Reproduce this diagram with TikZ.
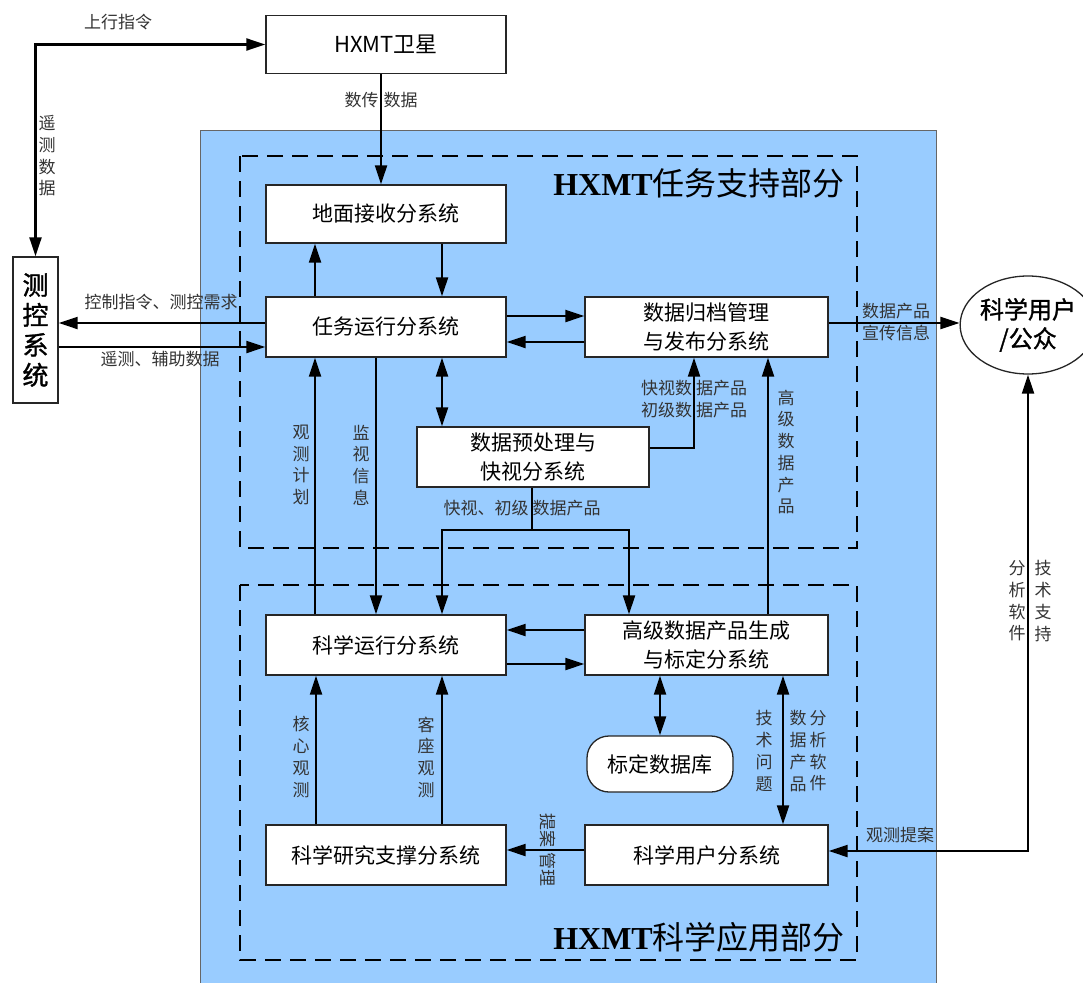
\documentclass[tikz,border=0pt]{standalone}
\usepackage{fontspec}
\setmainfont{Noto Sans CJK SC}
\newfontfamily\tms{Liberation Serif}
\newfontfamily\cjkfb[FakeBold=1.2]{Noto Sans CJK SC}
\usetikzlibrary{arrows.meta,shapes.geometric}
\definecolor{bgblue}{RGB}{153,204,255}
\tikzset{
  box/.style={draw=black!85, fill=white, line width=1.3pt, inner sep=0pt, align=center,
              font=\fontsize{21}{29}\selectfont},
  conn/.style={line width=2.1pt},
  lbl/.style={inner sep=0pt, align=center, text=black!80, font=\fontsize{17}{22}\selectfont},
  vlbl/.style={inner sep=0pt, align=center, text=black!80, font=\fontsize{17}{21.7}\selectfont},
  dashbox/.style={line width=2.6pt, dash pattern=on 16pt off 9pt},
}
\begin{document}
\begin{tikzpicture}[x=1pt,y=-1pt,>={Triangle[length=19pt,width=12pt]}]
\useasboundingbox (0,0) rectangle (1083,982);
\fill[white] (0,0) rectangle (1083,982);
% background and dashed frames
\draw[fill=bgblue, draw=black!60, line width=0.8pt] (200,130) rectangle (936,995);
\draw[dashbox] (240,156) rectangle (857,548);
\draw[dashbox] (240,585) rectangle (857,960);
% titles
\node[anchor=east, inner sep=0pt] (t1) at (845,183)
  {{\tms\bfseries\fontsize{32}{32}\selectfont HXMT}{\fontsize{32}{32}\selectfont 任务支持部分}};
\node[anchor=east, inner sep=0pt] (t2) at (845,937)
  {{\tms\bfseries\fontsize{32}{32}\selectfont HXMT}{\fontsize{32}{32}\selectfont 科学应用部分}};
% nodes
\node[box, minimum width=240pt, minimum height=58pt, font=\fontsize{22}{26}\selectfont] (sat) at (386,44.5) {HXMT卫星};
\node[box, minimum width=45pt, minimum height=146pt, font=\fontsize{26}{30}\cjkfb] (ck) at (35.5,330) {测\\控\\系\\统};
\node[box, minimum width=240pt, minimum height=58pt] (dm) at (386,214) {地面接收分系统};
\node[box, minimum width=240pt, minimum height=60pt] (rw) at (386,327) {任务运行分系统};
\node[box, minimum width=243pt, minimum height=60pt] (gd) at (706.5,327) {数据归档管理\\与发布分系统};
\node[box, minimum width=232pt, minimum height=60pt] (yc) at (533,457) {数据预处理与\\快视分系统};
\node[box, minimum width=240pt, minimum height=60pt] (ky) at (386,645) {科学运行分系统};
\node[box, minimum width=243pt, minimum height=60pt] (gj) at (706.5,645) {高级数据产品生成\\与标定分系统};
\node[box, minimum width=146pt, minimum height=56pt, rounded corners=22pt] (bd) at (660,764) {标定数据库};
\node[box, minimum width=240pt, minimum height=60pt] (zc) at (386,855) {科学研究支撑分系统};
\node[box, minimum width=243pt, minimum height=60pt] (yh) at (706.5,855) {科学用户分系统};
\node[box, ellipse, minimum width=128pt, minimum height=98pt, font=\fontsize{24}{29}\cjkfb] (user) at (1028,325) {科学用户\\/公众};
% labels
\node[lbl] (l1) at (118,22) {上行指令};
\node[vlbl] (l2) at (47,156) {遥\\测\\数\\据};
\node[lbl] (l3) at (381,100) {数传\hspace{5pt}数据};
\node[lbl] (l4) at (161,302) {控制指令、测控需求};
\node[lbl] (l5) at (160,359) {遥测、辅助数据};
\node[vlbl] (l6) at (301,465) {观\\测\\计\\划};
\node[vlbl] (l7) at (361,465) {监\\视\\信\\息};
\node[lbl] (l8) at (694,399) {快视数\hspace{4pt}据产品\\初级数\hspace{4pt}据产品};
\node[vlbl] (l9) at (786,452) {高\\级\\数\\据\\产\\品};
\node[lbl] (l10) at (896,322) {数据产品\\宣传信息};
\node[lbl] (l11) at (522,508) {快视、初级\hspace{4pt}数据产品};
\node[vlbl] (l12) at (301,757) {核\\心\\观\\测};
\node[vlbl] (l13) at (426,757) {客\\座\\观\\测};
\node[vlbl] (l14) at (764,751) {技\\术\\问\\题};
\node[vlbl] (l15) at (798,751) {数\\据\\产\\品};
\node[vlbl] (l16) at (818,751) {分\\析\\软\\件};
\node[lbl] (l17) at (900,835) {观测提案};
\node[vlbl] (l18) at (1017,601) {分\\析\\软\\件};
\node[vlbl] (l19) at (1043,601) {技\\术\\支\\持};
\node[lbl, rotate=-90] (l20) at (548,850) {提案\hspace{6pt}管理};
% connectors
\draw[<->, conn] (ck.north) |- (sat.west);
\draw[->, conn] (sat.south -| 381,0) -- (dm.north -| 381,0);
\draw[->, conn] (rw.west |- 0,323) -- (ck.east |- 0,323);
\draw[->, conn] (ck.east |- 0,347) -- (rw.west |- 0,347);
\draw[->, conn] (rw.north -| 315,0) -- (dm.south -| 315,0);
\draw[->, conn] (dm.south -| 442,0) -- (rw.north -| 442,0);
\draw[->, conn] (rw.east |- 0,316) -- (gd.west |- 0,316);
\draw[->, conn] (gd.west |- 0,342) -- (rw.east |- 0,342);
\draw[<->, conn] (rw.south -| 442,0) -- (yc.north -| 442,0);
\draw[->, conn] (gd.east |- 0,323) -- (user.west |- 0,323);
\draw[->, conn] (yc.east |- 0,448) -| (gd.south -| 694,0);
\draw[->, conn] (gj.north -| 768,0) -- (gd.south -| 768,0);
\draw[->, conn] (ky.north -| 315,0) -- (rw.south -| 315,0);
\draw[->, conn] (rw.south -| 376,0) -- (ky.north -| 376,0);
\coordinate (split) at (532,530);
\draw[conn] (yc.south -| split) -- (split);
\draw[->, conn] (split) -| (ky.north -| 442,0);
\draw[->, conn] (split) -| (gj.north -| 629,0);
\draw[->, conn] (gj.west |- 0,630) -- (ky.east |- 0,630);
\draw[->, conn] (ky.east |- 0,664) -- (gj.west |- 0,664);
\draw[->, conn] (zc.north -| 316,0) -- (ky.south -| 316,0);
\draw[->, conn] (zc.north -| 442,0) -- (ky.south -| 442,0);
\draw[<->, conn] (gj.south -| 660,0) -- (bd.north);
\draw[<->, conn] (gj.south -| 783,0) -- (yh.north -| 783,0);
\draw[->, conn] (yh.west |- 0,850) -- (zc.east |- 0,850);
\draw[<->, conn] (user.south) |- (yh.east |- 0,851);
\end{tikzpicture}
\end{document}
